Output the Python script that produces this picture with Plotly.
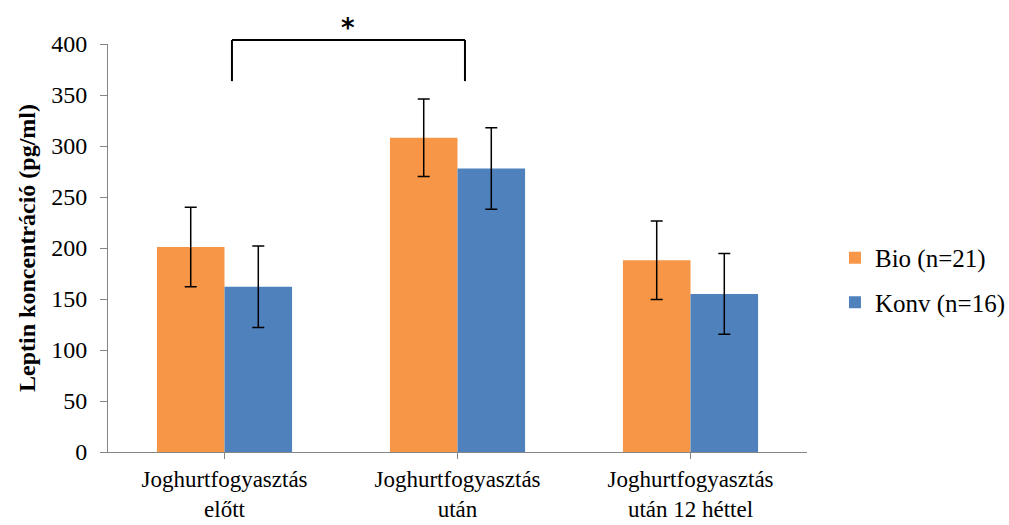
import plotly.graph_objects as go

# Leptin concentration by measurement time, organic vs. conventional group
categories = ["Joghurtfogyasztás<br>előtt", "Joghurtfogyasztás<br>után", "Joghurtfogyasztás<br>után 12 héttel"]
bio_values = [201, 308, 188]
bio_err = [39, 38, 38.5]
konv_values = [162, 278, 155]
konv_err = [40, 40, 39.5]
series_names = ["Bio (n=21)", "Konv (n=16)"]
y_ticks = [0, 50, 100, 150, 200, 250, 300, 350, 400]

FONT = "Liberation Serif, Times New Roman, serif"
AXIS_GRAY = "#868686"

fig = go.Figure()
fig.add_trace(go.Bar(
    x=list(range(len(categories))), y=bio_values, name=series_names[0],
    marker=dict(color="#F79646", line=dict(width=0)),
    error_y=dict(type="data", array=bio_err, color="black", thickness=1.5, width=6),
    legendgroup="bio",
))
fig.add_trace(go.Bar(
    x=list(range(len(categories))), y=konv_values, name=series_names[1],
    marker=dict(color="#4F81BD", line=dict(width=0)),
    error_y=dict(type="data", array=konv_err, color="black", thickness=1.5, width=6),
    legendgroup="konv",
))

# significance bracket between the first two measurement times
bx0, bx1 = 0.032, 1.032
y_top, y_bot = 1.0098, 0.909
bracket = dict(color="black", width=2)
fig.add_shape(type="line", xref="x", yref="paper", x0=bx0, x1=bx1, y0=y_top, y1=y_top, line=bracket)
fig.add_shape(type="line", xref="x", yref="paper", x0=bx0, x1=bx0, y0=y_top, y1=y_bot, line=bracket)
fig.add_shape(type="line", xref="x", yref="paper", x0=bx1, x1=bx1, y0=y_top, y1=y_bot, line=bracket)
fig.add_annotation(x=(bx0 + bx1) / 2, xref="x", y=1.038, yref="paper", yanchor="middle",
                   text="<b>*</b>", showarrow=False,
                   font=dict(family="DejaVu Sans, sans-serif", size=26, color="black"))

fig.update_layout(
    width=1009, height=525,
    margin=dict(l=108, r=202, t=44, b=73, autoexpand=False),
    paper_bgcolor="white", plot_bgcolor="white",
    barmode="group", bargap=0.42, bargroupgap=0,
    font=dict(family=FONT, size=24, color="black"),
    showlegend=True,
    legend=dict(x=1.04, xanchor="left", y=0.4216, yanchor="middle",
                font=dict(family=FONT, size=25, color="black"),
                traceorder="grouped", tracegroupgap=9, itemwidth=30),
    xaxis=dict(
        tickmode="array", tickvals=list(range(len(categories))), ticktext=categories,
        range=[-0.5, 2.5], showline=True, linecolor=AXIS_GRAY, linewidth=1,
        ticks="outside", tickson="boundaries", ticklen=6, tickcolor=AXIS_GRAY,
        tickfont=dict(family=FONT, size=23, color="black"), showgrid=False, zeroline=False,
        automargin=False,
    ),
    yaxis=dict(
        range=[0, 400], tickmode="array", tickvals=y_ticks,
        showline=True, linecolor=AXIS_GRAY, linewidth=1,
        ticks="outside", ticklen=7, tickcolor=AXIS_GRAY,
        tickfont=dict(family=FONT, size=24, color="black"), ticklabelstandoff=8,
        showgrid=False, zeroline=False, automargin=False,
        title=dict(text="<b>Leptin koncentráció (pg/ml)</b>",
                   font=dict(family=FONT, size=24, color="black"), standoff=8),
    ),
)

fig.write_html("out.html")
